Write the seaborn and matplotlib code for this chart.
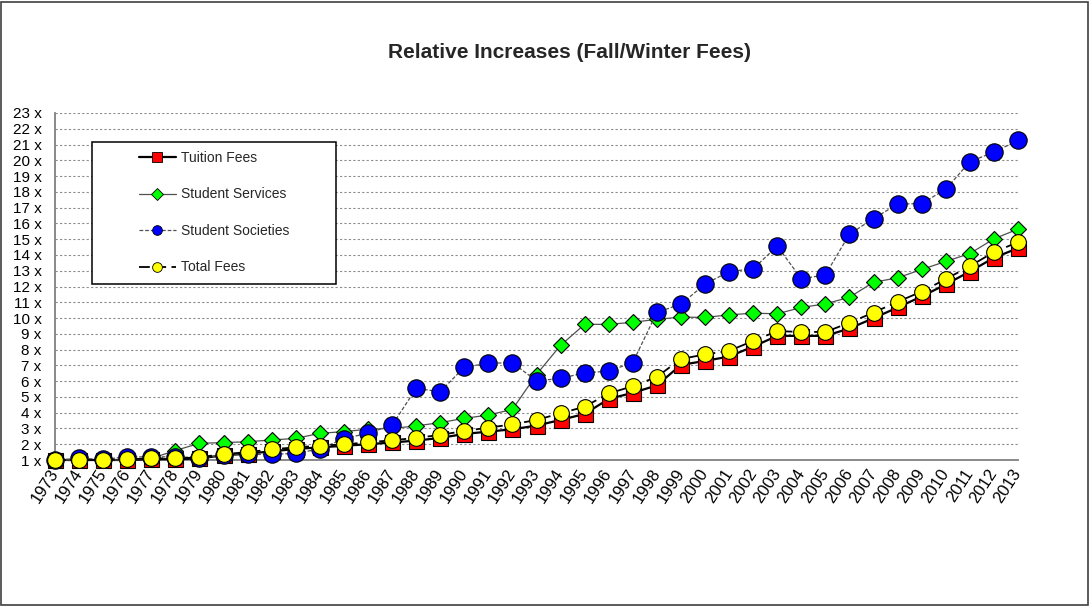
"""
Relative increases of fall/winter fees, 1973-2013 (base year = 1 x).
"""

import matplotlib
matplotlib.use("Agg")
import matplotlib.pyplot as plt
from matplotlib.lines import Line2D
from matplotlib.patches import Rectangle
import seaborn as sns

# ─── Data ─────────────────────────────────────────────────────────────────────

years = list(range(1973, 2014))

tuition_fees = [
    1.00, 1.00, 1.00, 1.00, 1.05, 1.05, 1.10, 1.30, 1.40, 1.55,
    1.70, 1.80, 1.90, 2.00, 2.11, 2.23, 2.40, 2.65, 2.80, 2.95,
    3.18, 3.54, 3.92, 4.87, 5.26, 5.73, 7.03, 7.28, 7.56, 8.19,
    8.87, 8.87, 8.87, 9.34, 9.99, 10.67, 11.37, 12.13, 12.95, 13.82,
    14.43,
]
student_services = [
    1.00, 1.00, 1.00, 1.00, 1.10, 1.60, 2.06, 2.10, 2.16, 2.27,
    2.37, 2.69, 2.80, 2.95, 3.00, 3.16, 3.37, 3.64, 3.85, 4.21,
    6.42, 8.27, 9.60, 9.60, 9.73, 9.92, 10.06, 10.04, 10.20, 10.31,
    10.27, 10.67, 10.90, 11.32, 12.27, 12.55, 13.08, 13.59, 14.09, 15.02,
    15.64,
]
student_societies = [
    1.00, 1.10, 1.05, 1.20, 1.20, 1.20, 1.15, 1.30, 1.35, 1.36,
    1.42, 1.70, 2.35, 2.70, 3.20, 5.54, 5.33, 6.88, 7.14, 7.16,
    6.02, 6.17, 6.53, 6.63, 7.18, 10.36, 10.88, 12.15, 12.95, 13.12,
    14.56, 12.49, 12.74, 15.32, 16.31, 17.22, 17.26, 18.17, 19.91, 20.52,
    21.26,
]
total_fees = [
    1.00, 1.00, 1.00, 1.05, 1.10, 1.10, 1.17, 1.38, 1.49, 1.68,
    1.80, 1.91, 1.99, 2.12, 2.25, 2.40, 2.59, 2.84, 3.05, 3.26,
    3.54, 3.96, 4.38, 5.22, 5.68, 6.27, 7.41, 7.69, 7.92, 8.55,
    9.17, 9.12, 9.12, 9.70, 10.35, 11.03, 11.68, 12.47, 13.29, 14.18,
    14.81,
]

series_names = ["Tuition Fees", "Student Services", "Student Societies", "Total Fees"]
y_ticks = list(range(1, 24))
y_tick_labels = [f"{v} x" for v in y_ticks]

# ─── Styling ──────────────────────────────────────────────────────────────────

sns.set_theme(style="white")
plt.rcParams["font.family"] = ["Liberation Sans", "DejaVu Sans"]

styles = [
    dict(color="black", lw=1.6, ls="-", marker="s", ms=10.8, mfc="#ff0000"),
    dict(color="#505050", lw=0.9, ls="-", marker="D", ms=8.4, mfc="#00ff00"),
    dict(color="#505050", lw=0.9, ls=(0, (3, 1.5)), marker="o", ms=12.5, mfc="#0000ff"),
    dict(color="black", lw=1.3, ls=(0, (6, 3)), marker="o", ms=11.3, mfc="#ffff00"),
]

fig = plt.figure(figsize=(10.9, 6.06), dpi=100)
ax = fig.add_axes([55 / 1090, 1 - 460 / 606, 963 / 1090, 347 / 606])

for i, (vals, st) in enumerate(zip(
        [tuition_fees, student_services, student_societies, total_fees], styles)):
    sns.lineplot(
        x=years, y=vals, ax=ax, legend=False,
        color=st["color"], linewidth=st["lw"], linestyle=st["ls"],
        marker=st["marker"], markersize=st["ms"],
        markerfacecolor=st["mfc"], markeredgecolor="black",
        markeredgewidth=0.8, clip_on=False, zorder=3 + i,
    )

# axes, ticks, grid
ax.set_xlim(1973, 2013)
ax.set_ylim(1, 23)
ax.set_xticks(years)
ax.set_xticklabels([str(y) for y in years], rotation=57, ha="right",
                   va="center", rotation_mode="anchor", fontsize=12)
ax.set_yticks(y_ticks)
ax.set_yticklabels(y_tick_labels, fontsize=11)
ax.set_xlabel("")
ax.set_ylabel("")
ax.tick_params(axis="both", direction="out", length=3.6, width=1,
               color="#808080", labelcolor="black")
ax.tick_params(axis="x", pad=4)
ax.tick_params(axis="y", pad=6)
ax.yaxis.grid(True, linestyle=(0, (2, 2)), color="#8c8c8c", linewidth=0.8)
ax.xaxis.grid(False)
for side in ["top", "right"]:
    ax.spines[side].set_visible(False)
for side in ["left", "bottom"]:
    ax.spines[side].set_color("#808080")
    ax.spines[side].set_linewidth(1.3)
    ax.spines[side].set_zorder(2.5)

# legend: white box + entries
box = Rectangle((0.0384, 0.507), 0.2534, 0.4094, transform=ax.transAxes,
                facecolor="white", edgecolor="black", linewidth=1.1, zorder=10)
ax.add_patch(box)

leg_ms = [6.5, 6, 7, 7]
handles = [
    Line2D([], [], color=st["color"], lw=st["lw"], ls=st["ls"],
           marker=st["marker"], ms=m, mfc=st["mfc"], mec="black", mew=0.6)
    for st, m in zip(styles, leg_ms)
]
leg = ax.legend(handles, series_names, loc="upper left",
                bbox_to_anchor=(0.0872, 0.8905), frameon=False, borderpad=0,
                borderaxespad=0, handlelength=2.66, handletextpad=0.4,
                labelspacing=1.62, fontsize=10)
leg.set_zorder(11)

# title and outer border
fig.text(569 / 1090, 1 - 52 / 606, "Relative Increases (Fall/Winter Fees)",
         ha="center", va="center", fontsize=15, fontweight="bold")
fig.add_artist(Rectangle((0.001, 0.0015), 0.997, 0.996, transform=fig.transFigure,
                         fill=False, edgecolor="#404040", linewidth=1.2))

fig.savefig("out.png", dpi=100)
plt.close(fig)
